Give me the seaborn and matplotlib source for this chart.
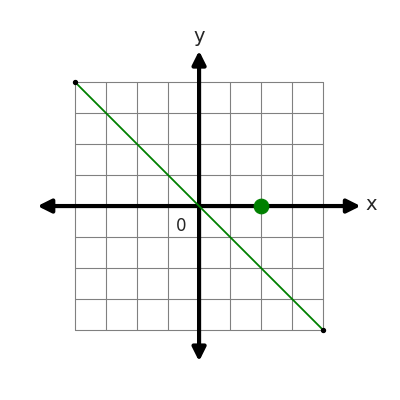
import seaborn as sns
import matplotlib.pyplot as plt

line_x = [-4, 4]
line_y = [4, -4]
point_x = [2]
point_y = [0]
grid_ticks = list(range(-4, 5))

sns.set_style("white")
fig = plt.figure(figsize=(4, 4), dpi=100)
ax = fig.add_axes([0, 0, 1, 1])
ax.set_xlim(-6.42, 6.48)
ax.set_ylim(-6.26, 6.65)
ax.axis("off")

# grid
for t in grid_ticks:
    ax.plot([t, t], [-4, 4], color="gray", lw=0.8, zorder=1)
    ax.plot([-4, 4], [t, t], color="gray", lw=0.8, zorder=1)

# axes with arrows
ax.annotate("", xy=(5.3, 0), xytext=(-5.3, 0),
            arrowprops=dict(arrowstyle="<|-|>", color="black", lw=3, mutation_scale=20), zorder=3)
ax.annotate("", xy=(0, 5.1), xytext=(0, -5.1),
            arrowprops=dict(arrowstyle="<|-|>", color="black", lw=3, mutation_scale=20), zorder=3)

sns.lineplot(x=line_x, y=line_y, color="green", lw=1.3, ax=ax, zorder=4)
ax.scatter(line_x, line_y, color="black", s=8, zorder=5)
sns.scatterplot(x=point_x, y=point_y, color="green", s=110, ax=ax, zorder=6, edgecolor="green")

ax.text(5.35, 0.05, "x", fontsize=14, va="center", ha="left")
ax.text(0, 5.15, "y", fontsize=14, va="bottom", ha="center")
ax.text(-0.4, -0.35, "0", fontsize=12, va="top", ha="right")

fig.savefig("out.png")
